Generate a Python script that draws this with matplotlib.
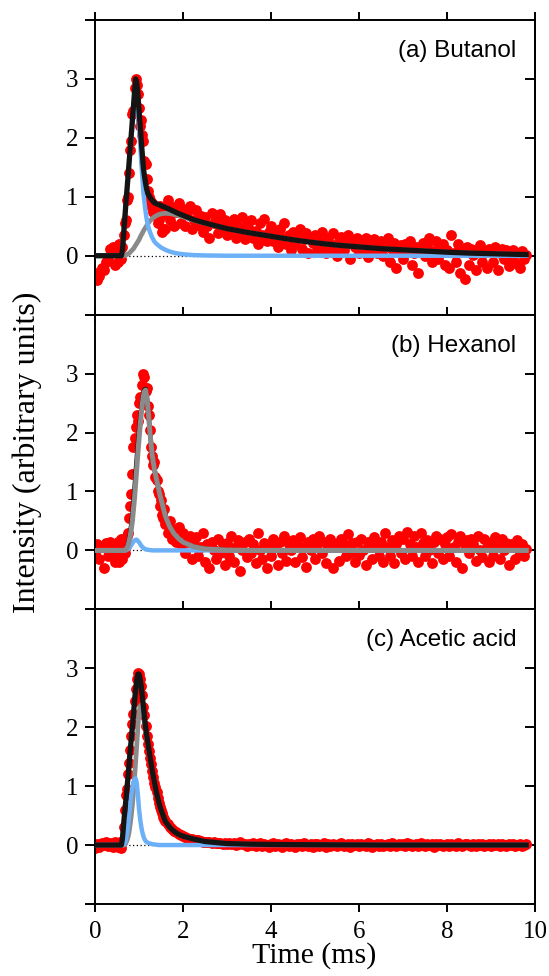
import numpy as np
import matplotlib
matplotlib.use("Agg")
import matplotlib.pyplot as plt

# ---- measured signal (red dots), three sampling segments ----
early_step, peak_step, tail_step = 0.05, 0.025, 0.05
early_start, peak_start, tail_start = 0.0, 0.5, 1.6

butanol_early = [-0.30, -0.42, -0.35, -0.20, -0.25, -0.10, -0.05, 0.12, 0.15, -0.15]
butanol_peak = [0.05, -0.10, 0.20, 0.10, -0.05, 0.15, 0.35, 0.55, 0.60, 0.95,
                1.00, 1.40, 1.80, 1.95, 2.40, 2.45, 2.85, 3.00, 2.90, 2.75,
                2.50, 2.20, 2.30, 2.05, 1.95, 1.60, 1.55, 1.30, 1.10, 1.00,
                0.95, 0.85, 0.90, 0.75, 0.80, 0.70, 0.65, 0.55, 0.60, 0.85,
                0.75, 0.40, 0.45, 0.70]
butanol_tail = [0.45, 0.95, 0.60, 0.82, 0.50, 0.75, 0.90, 0.55,
                0.80, 0.50, 0.72, 0.85, 0.45, 0.60, 0.78, 0.52, 0.68, 0.40,
                0.65, 0.50, 0.30, 0.72, 0.55, 0.62, 0.38, 0.70, 0.48, 0.60,
                0.35, 0.58, 0.45, 0.62, 0.30, 0.50, 0.40, 0.65, 0.28, 0.52,
                0.45, 0.60, 0.30, 0.42, 0.20, 0.55, 0.35, 0.62, 0.25, 0.40,
                0.50, 0.25, 0.38, 0.15, 0.45, 0.30, 0.55, 0.20, 0.35, 0.10,
                0.40, 0.20, 0.30, 0.45, 0.12, 0.28, 0.38, 0.05, 0.30, 0.22,
                0.35, 0.10, 0.25, 0.40, 0.15, 0.05, 0.30, 0.20, 0.38, 0.12,
                0.00, 0.25, 0.32, 0.10, 0.20, 0.35, -0.05, 0.22, 0.15, 0.30,
                0.05, 0.25, 0.12, 0.30, -0.02, 0.20, 0.10, 0.28, 0.05, 0.18,
                0.25, 0.00, 0.15, 0.30, -0.10, 0.12, 0.22, -0.20, 0.10, 0.18,
                -0.05, 0.20, 0.10, 0.25, -0.15, 0.05, 0.15, -0.30, 0.12, 0.22,
                0.00, 0.18, 0.30, -0.10, 0.08, 0.25, -0.05, 0.12, 0.20, -0.15,
                0.10, -0.20, 0.35, 0.05, -0.10, 0.20, -0.30, 0.08, -0.40, 0.15,
                -0.15, 0.12, 0.02, -0.25, 0.10, 0.18, -0.10, 0.05, -0.20, 0.12,
                0.08, -0.10, 0.15, -0.25, 0.05, 0.12, -0.05, 0.10, -0.18, 0.00,
                0.10, -0.12, 0.05, -0.20, 0.08, -0.05, 0.02]

hexanol_early = [-0.05, 0.10, -0.15, 0.05, -0.30, 0.12, -0.10, 0.15, 0.00, -0.20]
hexanol_peak = [-0.10, 0.15, -0.20, 0.05, 0.20, -0.15, 0.10, -0.05, 0.08, 0.25,
                0.30, 0.55, 0.75, 0.95, 1.30, 1.75, 1.90, 2.10, 2.30, 2.20,
                2.50, 2.60, 2.55, 2.80, 3.00, 2.95, 2.70, 2.75, 2.45, 2.30,
                2.05, 1.75, 1.60, 1.45, 1.50, 1.25, 1.20, 1.00, 0.95, 0.75,
                0.85, 0.60, 0.55, 0.70]
hexanol_tail = [0.45, 0.30, 0.50, 0.20, 0.35, 0.15, 0.40, 0.10,
                0.30, -0.05, 0.15, 0.25, -0.15, 0.10, 0.22, -0.10, 0.05, 0.30,
                -0.20, 0.10, -0.30, 0.15, 0.00, -0.15, 0.20, -0.05, 0.10, -0.25,
                0.12, -0.10, 0.25, -0.20, 0.05, 0.18, -0.35, 0.00, 0.15, -0.12,
                0.20, -0.05, 0.10, -0.22, 0.30, 0.00, -0.15, 0.12, -0.30, 0.08,
                -0.10, 0.20, 0.05, -0.25, 0.15, -0.05, 0.25, -0.18, 0.10, 0.00,
                0.18, -0.20, 0.10, 0.22, -0.12, 0.05, -0.28, 0.15, 0.00, 0.20,
                -0.15, 0.10, 0.25, -0.05, 0.15, -0.22, 0.05, 0.20, -0.30, 0.10,
                0.05, -0.18, 0.20, 0.10, -0.10, 0.28, -0.05, 0.12, -0.20, 0.15,
                -0.08, 0.20, 0.00, -0.25, 0.15, 0.10, -0.15, 0.22, 0.05, -0.10,
                0.15, -0.20, 0.30, 0.05, -0.10, 0.18, -0.22, 0.10, 0.25, -0.05,
                0.20, -0.15, 0.32, 0.10, -0.10, 0.25, 0.05, -0.20, 0.30, 0.12,
                -0.10, 0.18, 0.00, -0.22, 0.15, 0.25, -0.05, 0.20, -0.15, 0.10,
                0.22, -0.10, 0.28, 0.05, -0.20, 0.15, 0.25, -0.30, 0.10, 0.18,
                -0.05, 0.20, 0.10, -0.18, 0.25, 0.00, -0.12, 0.20, 0.05, -0.20,
                0.15, -0.10, 0.22, 0.05, -0.15, 0.20, 0.00, 0.12, -0.25, 0.10,
                0.05, -0.15, 0.18, -0.05, 0.10, -0.10, 0.02]

acetic_early = [-0.05, 0.02, -0.03, 0.04, 0.00, 0.05, -0.02, 0.03, -0.04, 0.06]
acetic_peak = [0.03, -0.04, -0.02, 0.05, -0.05, 0.05, 0.30, 0.60, 0.85, 0.95,
               1.20, 1.40, 1.62, 1.85, 2.05, 2.22, 2.45, 2.65, 2.82, 2.92,
               2.90, 2.82, 2.70, 2.55, 2.35, 2.20, 2.02, 1.85, 1.72, 1.60,
               1.48, 1.38, 1.25, 1.15, 1.05, 0.98, 0.90, 0.80, 0.72, 0.65,
               0.60, 0.54, 0.48, 0.44]
acetic_tail = [0.40, 0.36, 0.30, 0.28, 0.24, 0.22, 0.18, 0.17,
               0.15, 0.14, 0.12, 0.11, 0.10, 0.09, 0.08, 0.08, 0.07, 0.06,
               0.06, 0.05, 0.06, 0.04, 0.05, 0.03, 0.04, 0.03, 0.02, 0.04,
               0.02, 0.04, 0.01, 0.03, 0.00, 0.02, 0.05, 0.01, 0.02, -0.01,
               0.02, 0.00, 0.03, -0.02, 0.01, 0.04, -0.01, 0.02, 0.00, -0.03,
               0.01, 0.03, -0.02, 0.02, 0.00, -0.03, 0.02, 0.04, -0.01, 0.01,
               0.00, -0.04, 0.02, 0.01, -0.02, 0.03, 0.00, -0.01, 0.02, -0.03,
               0.01, 0.02, -0.02, 0.00, 0.03, -0.03, 0.01, -0.01, 0.02, 0.00,
               -0.02, 0.01, 0.03, -0.01, 0.00, 0.02, -0.03, 0.01, 0.00, 0.02,
               -0.01, 0.02, 0.00, -0.02, 0.03, 0.01, -0.03, 0.00, 0.02, -0.01,
               0.01, -0.02, 0.00, 0.02, -0.01, 0.03, 0.00, -0.02, 0.01, 0.00,
               0.02, -0.01, 0.04, 0.01, -0.02, 0.00, 0.02, -0.01, 0.03, 0.00,
               -0.02, 0.01, 0.00, 0.02, -0.03, 0.01, 0.00, 0.02, -0.01, 0.00,
               0.01, -0.02, 0.02, 0.00, -0.01, 0.03, 0.00, -0.02, 0.01, 0.02,
               0.00, -0.01, 0.02, -0.02, 0.01, 0.00, 0.02, -0.01, 0.00, 0.01,
               -0.02, 0.01, 0.00, 0.02, -0.01, 0.01, 0.00, -0.02, 0.01, 0.00,
               0.01, -0.01, 0.00, 0.02, -0.01, 0.00, 0.01]

# ---- fitted curves ----
t_fit = [0.0, 0.6, 0.625, 0.65, 0.675, 0.7, 0.725, 0.75, 0.775, 0.8,
         0.825, 0.85, 0.875, 0.9, 0.925, 0.95, 0.975, 1.0, 1.025, 1.05,
         1.075, 1.1, 1.125, 1.15, 1.175, 1.2, 1.25, 1.3, 1.35, 1.4,
         1.45, 1.5, 1.6, 1.7, 1.8, 1.9, 2.0, 2.25, 2.5, 3.0,
         3.5, 4.0, 4.5, 5.0, 5.5, 6.0, 6.5, 7.0, 7.5, 8.0,
         8.5, 9.0, 9.5, 9.8]

butanol_fast = [0, 0, 0.10, 0.35, 0.60, 0.85, 1.08, 1.30, 1.54, 1.76,
                1.98, 2.20, 2.42, 2.64, 2.82, 2.72, 2.50, 2.20, 1.92, 1.62,
                1.35, 1.07, 0.90, 0.75, 0.62, 0.52, 0.40, 0.31, 0.24, 0.20,
                0.17, 0.14, 0.10, 0.07, 0.05, 0.035, 0.025, 0.01, 0.005, 0,
                0, 0, 0, 0, 0, 0, 0, 0, 0, 0,
                0, 0, 0, 0]
butanol_slow = [0, 0, 0, 0, 0.005, 0.01, 0.02, 0.03, 0.04, 0.06,
                0.08, 0.10, 0.12, 0.15, 0.18, 0.21, 0.24, 0.27, 0.31, 0.35,
                0.38, 0.42, 0.45, 0.48, 0.51, 0.54, 0.59, 0.63, 0.66, 0.68,
                0.70, 0.71, 0.72, 0.715, 0.70, 0.68, 0.66, 0.60, 0.55, 0.46,
                0.39, 0.33, 0.27, 0.22, 0.18, 0.15, 0.12, 0.10, 0.08, 0.06,
                0.045, 0.035, 0.025, 0.02]
butanol_total = [0, 0, 0.10, 0.35, 0.605, 0.86, 1.10, 1.33, 1.58, 1.82,
                 2.06, 2.30, 2.54, 2.79, 3.00, 2.93, 2.74, 2.47, 2.23, 1.97,
                 1.73, 1.49, 1.35, 1.23, 1.13, 1.06, 0.99, 0.94, 0.90, 0.88,
                 0.87, 0.85, 0.82, 0.785, 0.75, 0.715, 0.685, 0.61, 0.555, 0.46,
                 0.39, 0.33, 0.27, 0.22, 0.18, 0.15, 0.12, 0.10, 0.08, 0.06,
                 0.045, 0.035, 0.025, 0.02]

hexanol_fast = [0, 0, 0, 0, 0, 0, 0.01, 0.02, 0.04, 0.06,
                0.09, 0.12, 0.15, 0.17, 0.18, 0.18, 0.16, 0.14, 0.11, 0.08,
                0.06, 0.04, 0.03, 0.02, 0.015, 0.01, 0.005, 0, 0, 0,
                0, 0, 0, 0, 0, 0, 0, 0, 0, 0,
                0, 0, 0, 0, 0, 0, 0, 0, 0, 0,
                0, 0, 0, 0]
hexanol_slow = [0, 0, 0, 0, 0, 0.01, 0.04, 0.08, 0.15, 0.24,
                0.36, 0.50, 0.70, 0.90, 1.15, 1.40, 1.65, 1.88, 2.10, 2.30,
                2.48, 2.62, 2.70, 2.72, 2.62, 2.45, 2.00, 1.62, 1.38, 1.20,
                1.03, 0.87, 0.58, 0.40, 0.28, 0.20, 0.14, 0.06, 0.025, 0.005,
                0, 0, 0, 0, 0, 0, 0, 0, 0, 0,
                0, 0, 0, 0]
hexanol_total = [0, 0, 0, 0, 0, 0.01, 0.05, 0.10, 0.19, 0.30,
                 0.45, 0.62, 0.85, 1.07, 1.33, 1.58, 1.81, 2.02, 2.21, 2.38,
                 2.54, 2.66, 2.73, 2.74, 2.635, 2.46, 2.005, 1.62, 1.38, 1.20,
                 1.03, 0.87, 0.58, 0.40, 0.28, 0.20, 0.14, 0.06, 0.025, 0.005,
                 0, 0, 0, 0, 0, 0, 0, 0, 0, 0,
                 0, 0, 0, 0]

acetic_fast = [0, 0, 0, 0, 0.02, 0.08, 0.18, 0.32, 0.50, 0.68,
               0.85, 0.98, 1.07, 1.12, 1.13, 1.05, 0.85, 0.62, 0.45, 0.32,
               0.22, 0.15, 0.10, 0.07, 0.05, 0.04, 0.025, 0.015, 0.01, 0.005,
               0, 0, 0, 0, 0, 0, 0, 0, 0, 0,
               0, 0, 0, 0, 0, 0, 0, 0, 0, 0,
               0, 0, 0, 0]
acetic_slow = [0, 0, 0, 0, 0.01, 0.03, 0.07, 0.13, 0.22, 0.35,
               0.50, 0.68, 0.90, 1.15, 1.42, 1.70, 2.00, 2.25, 2.35, 2.38,
               2.31, 2.20, 2.07, 1.93, 1.81, 1.70, 1.475, 1.255, 1.06, 0.875,
               0.73, 0.60, 0.40, 0.30, 0.23, 0.18, 0.15, 0.10, 0.06, 0.025,
               0.015, 0.01, 0.007, 0.005, 0.003, 0.002, 0, 0, 0, 0,
               0, 0, 0, 0]
acetic_total = [0, 0, 0.12, 0.35, 0.55, 0.75, 0.95, 1.15, 1.38, 1.60,
                1.80, 2.00, 2.22, 2.45, 2.65, 2.80, 2.90, 2.90, 2.82, 2.70,
                2.53, 2.35, 2.17, 2.00, 1.86, 1.74, 1.50, 1.27, 1.07, 0.88,
                0.73, 0.60, 0.40, 0.30, 0.23, 0.18, 0.15, 0.10, 0.06, 0.025,
                0.015, 0.01, 0.007, 0.005, 0.003, 0.002, 0, 0, 0, 0,
                0, 0, 0, 0]

panel_titles = ["(a) Butanol", "(b) Hexanol", "(c) Acetic acid"]
x_ticks = [0, 2, 4, 6, 8, 10]
y_ticks = [-1, 0, 1, 2, 3, 4]
y_ticklabels = ["", "0", "1", "2", "3", ""]

RED = "#ff0000"
BLUE = "#6cb0f7"
GRAY = "#8a8a8a"
BLACK = "#141414"
SERIF = ["Liberation Serif", "DejaVu Serif"]
SANS = ["Liberation Sans", "DejaVu Sans"]


def sample_times(early, peak, tail):
    t1 = early_start + early_step * np.arange(len(early))
    t2 = peak_start + peak_step * np.arange(len(peak))
    t3 = tail_start + tail_step * np.arange(len(tail))
    return np.concatenate([t1, t2, t3]), np.array(early + peak + tail)


panels = [
    (butanol_early, butanol_peak, butanol_tail, butanol_fast, butanol_slow,
     butanol_total, "slow_under"),
    (hexanol_early, hexanol_peak, hexanol_tail, hexanol_fast, hexanol_slow,
     hexanol_total, "slow_over"),
    (acetic_early, acetic_peak, acetic_tail, acetic_fast, acetic_slow,
     acetic_total, "slow_under"),
]

fig = plt.figure(figsize=(5.49, 9.76), dpi=100)
left, width = 0.173, 0.8015
bottom0, height = 0.0738, 0.3019

axes = []
for i, (early, peak, tail, fast, slow, total, order) in enumerate(panels):
    b = bottom0 + (2 - i) * height
    ax = fig.add_axes([left, b, width, height],
                      sharex=axes[0] if axes else None)
    axes.append(ax)

    t, y = sample_times(early, peak, tail)
    ax.axhline(0, color="black", lw=0.9, ls=(0, (1, 2)), zorder=1)
    ax.plot(t, y, "o", color=RED, ms=7.8, mec="none", zorder=2)

    if order == "slow_over":
        ax.plot(t_fit, total, color=BLACK, lw=3.2, zorder=3)
        ax.plot(t_fit, fast, color=BLUE, lw=3.2, zorder=4)
        ax.plot(t_fit, slow, color=GRAY, lw=3.6, zorder=5)
    else:
        ax.plot(t_fit, slow, color=GRAY, lw=3.4, zorder=3)
        ax.plot(t_fit, fast, color=BLUE, lw=3.2, zorder=4)
        ax.plot(t_fit, total, color=BLACK, lw=3.8, zorder=5)

    ax.set_xlim(0, 10)
    ax.set_ylim(-1, 4)
    ax.set_xticks(x_ticks)
    ax.set_yticks(y_ticks)
    ax.set_yticklabels(y_ticklabels, family=SERIF, fontsize=18)
    ax.tick_params(axis="y", direction="out", length=7, width=1.4, pad=5,
                   left=True, right=False)
    ax.tick_params(axis="x", direction="out", length=6, width=1.4,
                   top=True, bottom=True, pad=6)
    for s in ax.spines.values():
        s.set_linewidth(1.4)

    sec = ax.secondary_yaxis("right")
    sec.set_yticks([0, 1, 2, 3])
    sec.tick_params(direction="in", length=7, width=1.4, labelright=False)
    sec.spines["right"].set_linewidth(1.4)

    ax.text(0.958, 0.895, panel_titles[i], transform=ax.transAxes,
            ha="right", va="center", family=SANS, fontsize=17.5)

    if i < 2:
        ax.tick_params(axis="x", labelbottom=False)
    else:
        for lbl in ax.get_xticklabels():
            lbl.set_family(SERIF)
            lbl.set_fontsize(18)

fig.text(0.572, 0.021, "Time (ms)", ha="center", va="center",
         family=SERIF, fontsize=21.5)
fig.text(0.050, 0.537, "Intensity (arbitrary units)", ha="center",
         va="center", rotation=90, family=SERIF, fontsize=23)

fig.savefig("out.png", dpi=100)
